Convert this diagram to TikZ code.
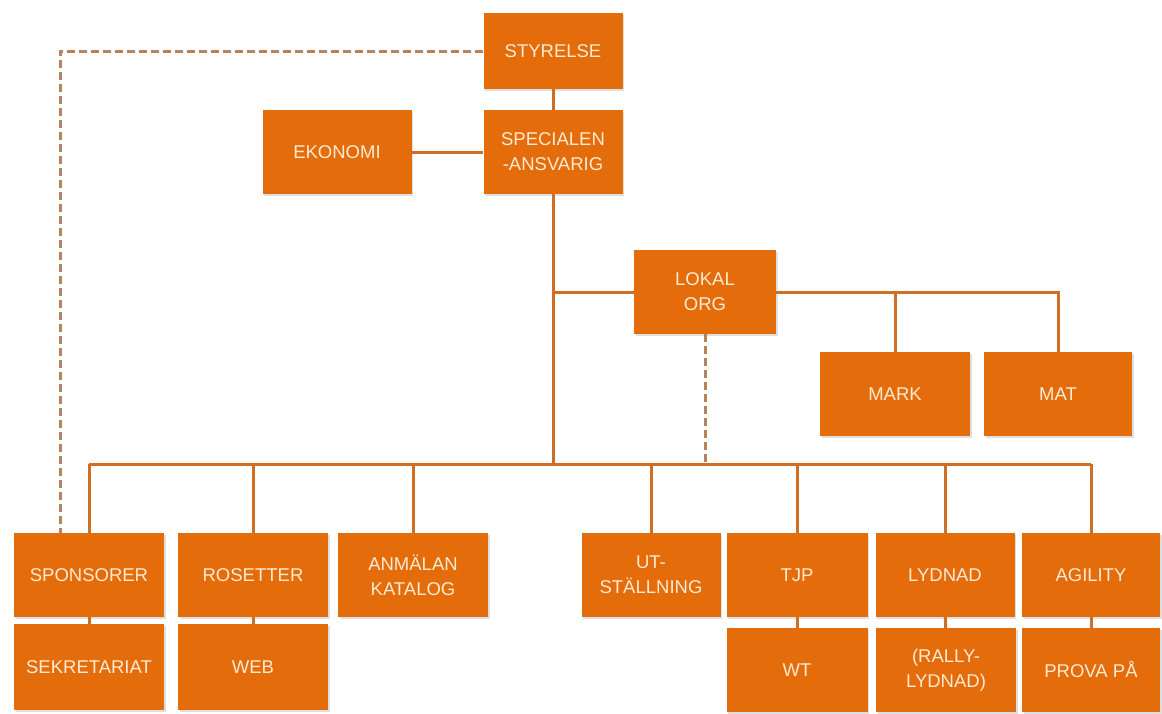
\documentclass[tikz,border=0pt]{standalone}
\usepackage{fontspec}
\setmainfont{Liberation Sans}
\usetikzlibrary{shadows}
\definecolor{boxorange}{HTML}{E46C0A}
\definecolor{boxtext}{HTML}{FDEBD3}
\definecolor{linkorange}{HTML}{CF6F26}
\definecolor{linkdash}{HTML}{B8825A}
\tikzset{
  orgbox/.style={fill=boxorange, text=boxtext, align=center, inner sep=0pt,
    minimum width=148pt, minimum height=84pt,
    font=\fontsize{18.5}{25}\selectfont,
    drop shadow={shadow xshift=1.5pt, shadow yshift=-1.5pt, opacity=0.25}},
  link/.style={draw=linkorange, line width=3pt},
  dashlink/.style={draw=linkdash, line width=3pt, dash pattern=on 8pt off 4pt},
}

\begin{document}
\begin{tikzpicture}[x=1pt,y=-1pt]
	\useasboundingbox (0,0) rectangle (1162,713);
	\node[orgbox, minimum width=139pt, minimum height=76pt] (styrelse) at (553,51) {STYRELSE};
	\node[orgbox, minimum width=139pt] (special) at (553,152) {SPECIALEN\\-ANSVARIG};
	\node[orgbox, minimum width=149pt] (ekonomi) at (337,152) {EKONOMI};
	\node[orgbox, minimum width=142pt] (lokal) at (705,292) {LOKAL\\ORG};
	\node[orgbox, minimum width=150pt] (mark) at (895,394) {MARK};
	\node[orgbox] (mat) at (1058,394) {MAT};
	\node[orgbox, minimum width=150pt] (sponsorer) at (89,575) {SPONSORER};
	\node[orgbox, minimum width=150pt] (rosetter) at (253,575) {ROSETTER};
	\node[orgbox, minimum width=150pt] (anmalan) at (413,575) {ANM\"ALAN\\KATALOG};
	\node[orgbox, minimum width=139pt] (utst) at (651,575) {UT-\\ST\"ALLNING};
	\node[orgbox, minimum width=141pt] (tjp) at (797,575) {TJP};
	\node[orgbox, minimum width=139pt] (lydnad) at (945,575) {LYDNAD};
	\node[orgbox, minimum width=138pt] (agility) at (1091,575) {AGILITY};
	\node[orgbox, minimum width=150pt, minimum height=86pt] (sekretariat) at (89,667) {SEKRETARIAT};
	\node[orgbox, minimum width=150pt, minimum height=86pt] (web) at (253,667) {WEB};
	\node[orgbox, minimum width=141pt] (wt) at (797,670) {WT};
	\node[orgbox, minimum width=140pt] (rally) at (946,670) {(RALLY-\\LYDNAD)};
	\node[orgbox, minimum width=138pt] (prova) at (1091,670) {PROVA P\r{A}};
	\coordinate (bus) at (0,464);
	\coordinate (dashend) at (60,533);
	\draw[link] (styrelse) -- (special);
	\draw[link] (ekonomi) -- (special);
	\draw[link] (special.south) -- (special.south |- bus);
	\draw[link] (lokal.west) -- (lokal.west -| special.south);
	\draw[link] (lokal.east) -| (mat.north);
	\draw[link] (mark.north) -- (mark.north |- lokal.east);
	\draw[link] (sponsorer.north |- bus) -- (agility.north |- bus);
	\foreach \n in {sponsorer,rosetter,anmalan,utst,tjp,lydnad,agility}
		\draw[link] (\n.north) -- (\n.north |- bus);
	\draw[link] (sponsorer) -- (sekretariat);
	\draw[link] (rosetter) -- (web);
	\draw[link] (tjp) -- (wt);
	\draw[link] (lydnad) -- (rally);
	\draw[link] (agility) -- (prova);
	\draw[dashlink] (styrelse.west) -| (dashend);
	\draw[dashlink] (lokal.south) -- (lokal.south |- bus);
\end{tikzpicture}
\end{document}
